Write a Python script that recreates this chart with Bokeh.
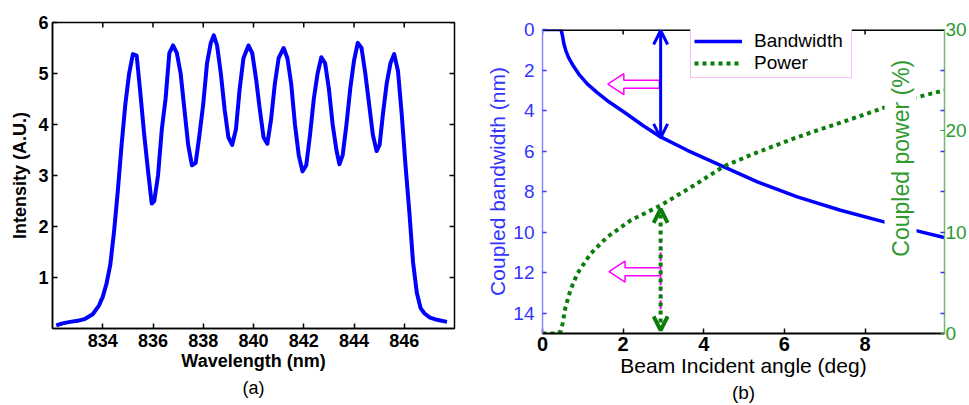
import math
from bokeh.plotting import figure
from bokeh.models import (Range1d, LinearAxis, FixedTicker, Title, Label, Arrow,
                          OpenHead, Legend, LegendItem)
from bokeh.layouts import row
from bokeh.embed import file_html
from bokeh.resources import INLINE

# ---------------- data: panel (a) ----------------
wavelength = [832.15, 832.4, 832.7, 833.0, 833.3, 833.6, 833.85, 834.0, 834.15, 834.3,
              834.45, 834.6, 834.75, 834.9, 835.05, 835.2, 835.35, 835.5, 835.65, 835.8,
              835.95, 836.05, 836.2, 836.35, 836.5, 836.65, 836.8, 836.95, 837.1, 837.25,
              837.4, 837.55, 837.7, 837.85, 838.0, 838.15, 838.3, 838.42, 838.55, 838.7,
              838.85, 839.0, 839.15, 839.3, 839.45, 839.6, 839.8, 839.95, 840.1, 840.25,
              840.4, 840.55, 840.7, 840.85, 841.0, 841.2, 841.35, 841.5, 841.65, 841.8,
              841.95, 842.1, 842.25, 842.4, 842.55, 842.7, 842.85, 843.0, 843.15, 843.3,
              843.42, 843.55, 843.7, 843.85, 844.0, 844.15, 844.3, 844.45, 844.6, 844.75,
              844.9, 845.02, 845.15, 845.3, 845.45, 845.6, 845.75, 845.9, 846.05, 846.2,
              846.35, 846.5, 846.65, 846.8, 847.0, 847.3, 847.7]
intensity = [0.06, 0.10, 0.13, 0.15, 0.19, 0.28, 0.45, 0.62, 0.88, 1.25,
             1.9, 2.7, 3.6, 4.4, 5.0, 5.38, 5.35, 4.6, 3.8, 3.1,
             2.45, 2.5, 3.0, 3.9, 4.5, 5.4, 5.55, 5.4, 5.0, 4.3,
             3.6, 3.2, 3.25, 3.8, 4.4, 5.2, 5.6, 5.75, 5.55, 5.0,
             4.3, 3.75, 3.6, 3.9, 4.7, 5.3, 5.55, 5.4, 4.9, 4.3,
             3.75, 3.62, 4.1, 4.8, 5.3, 5.5, 5.3, 4.8, 4.0, 3.4,
             3.08, 3.2, 3.8, 4.5, 5.0, 5.32, 5.2, 4.7, 4.0, 3.5,
             3.22, 3.4, 4.0, 4.7, 5.25, 5.6, 5.5, 5.0, 4.4, 3.8,
             3.48, 3.6, 4.2, 4.8, 5.2, 5.38, 5.05, 4.2, 3.2, 2.3,
             1.3, 0.7, 0.4, 0.3, 0.22, 0.17, 0.13]
wl_ticks = [834, 836, 838, 840, 842, 844, 846]
int_ticks = [1, 2, 3, 4, 5, 6]

# ---------------- data: panel (b) ----------------
angle_bw = [0, 0.46, 0.5, 0.53, 0.58, 0.65, 0.75, 0.9, 1.11, 1.35, 1.6, 2.02, 2.5,
            2.93, 3.59, 4.5, 5.33, 6.32, 7.39, 8.47, 9.21, 9.96]
bandwidth = [0, 0, 0.35, 0.7, 1.05, 1.4, 1.75, 2.2, 2.68, 3.1, 3.5, 4.07, 4.75,
             5.3, 5.96, 6.78, 7.52, 8.26, 8.92, 9.49, 9.9, 10.26]
angle_pw = [0, 0.36, 0.45, 0.5, 0.57, 0.69, 0.86, 1.19, 1.6, 2.18, 2.93, 3.75,
            4.5, 5.24, 6.32, 7.56, 8.47, 9.3, 9.96]
power = [0, 0, 0.2, 1.0, 2.6, 4.24, 5.89, 7.86, 9.5, 11.15, 12.64, 14.6,
         16.5, 17.74, 19.38, 21.03, 22.28, 23.33, 23.99]
angle_ticks = [0, 2, 4, 6, 8]
bw_ticks = [0, 2, 4, 6, 8, 10, 12, 14]
pw_ticks = [0, 10, 20, 30]

# annotation arrows (angle, values)
bw_arrow = dict(x=2.93, y0=0.05, y1=5.35)        # bandwidth double arrow
pw_arrow = dict(x=2.93, y0=0.3, y1=12.3)         # power double arrow (right axis)
hollow_arrows = [dict(tip=1.62, tail=2.9, y=2.7),
                 dict(tip=1.65, tail=2.93, y=11.95)]
magenta_seg = dict(x=2.93, y0=10.4, y1=13.8)

FONT = "Liberation Sans"
BLUE = "#0000ff"
AX_BLUE = "#3434ff"
AX_BLUE_LINE = "#8888ff"
GREEN = "#0a7d0a"
AX_GREEN = "#2f9a2f"
AX_GREEN_LINE = "#72b872"
MAGENTA = "#ff00ff"
TICK = 5  # inward tick length, px


def ticks_in(ax, color, width=1.5, length=TICK):
    ax.major_tick_in = length
    ax.major_tick_out = 0
    ax.minor_tick_in = 0
    ax.minor_tick_out = 0
    ax.major_tick_line_color = color
    ax.major_tick_line_width = width


# ================= panel (a) =================
A_W, A_H = 480, 405
A_L, A_R, A_T, A_B = 52, 26, 22, 77
a_x0, a_x1, a_y0, a_y1 = 832, 848, 0, 6
pa = figure(width=A_W, height=A_H,
            x_range=Range1d(a_x0, a_x1), y_range=Range1d(a_y0, a_y1),
            output_backend="svg", toolbar_location=None,
            min_border_left=A_L, min_border_right=A_R, min_border_top=A_T,
            min_border_bottom=A_B)
pa.frame_align = False
pa.grid.visible = False
pa.outline_line_color = "black"
pa.outline_line_width = 1.5
pa.background_fill_color = "white"
pa.border_fill_color = "white"

pa.line(wavelength, intensity, line_color=BLUE, line_width=4, line_join="round")

for ax, ticks, title in ((pa.xaxis[0], wl_ticks, "Wavelength (nm)"),
                         (pa.yaxis[0], int_ticks, "Intensity (A.U.)")):
    ax.ticker = FixedTicker(ticks=ticks)
    ax.axis_label = title
    ax.axis_label_text_font = FONT
    ax.axis_label_text_font_size = "18px"
    ax.axis_label_text_font_style = "bold"
    ax.axis_label_text_color = "black"
    ax.major_label_text_font = FONT
    ax.major_label_text_font_size = "18px"
    ax.major_label_text_font_style = "bold"
    ax.major_label_text_color = "black"
    ax.axis_line_color = "black"
    ax.axis_line_width = 1.5
    ticks_in(ax, "black")
pa.xaxis[0].major_label_standoff = 5
pa.xaxis[0].axis_label_standoff = 1
pa.yaxis[0].major_label_standoff = 4
pa.yaxis[0].axis_label_standoff = 5

# mirrored inward ticks on the right and top edges
a_fw = A_W - A_L - A_R
a_fh = A_H - A_T - A_B
a_dx = TICK * (a_x1 - a_x0) / a_fw
a_dy = TICK * (a_y1 - a_y0) / a_fh
pa.segment(x0=[a_x1] * len(int_ticks), y0=int_ticks, x1=[a_x1 - a_dx] * len(int_ticks),
           y1=int_ticks, line_color="black", line_width=1.5)
pa.segment(x0=wl_ticks, y0=[a_y1] * len(wl_ticks), x1=wl_ticks,
           y1=[a_y1 - a_dy] * len(wl_ticks), line_color="black", line_width=1.5)

pa.add_layout(Title(text="(a)", align="center", text_font=FONT, text_font_size="18px",
                    text_font_style="normal", text_color="black", standoff=4, offset=0),
              "below")

# ================= panel (b) =================
B_W, B_H = 489, 405
B_L, B_R, B_T, B_B = 62, 25, 29, 72
b_x0, b_x1 = 0, 9.97
pb = figure(width=B_W, height=B_H,
            x_range=Range1d(b_x0, b_x1), y_range=Range1d(15, 0),
            output_backend="svg", toolbar_location=None,
            min_border_left=B_L, min_border_right=B_R, min_border_top=B_T,
            min_border_bottom=B_B)
pb.frame_align = False
pb.extra_y_ranges = {"power": Range1d(0, 30)}
pb.grid.visible = False
pb.outline_line_color = None
pb.background_fill_color = "white"
pb.border_fill_color = "white"
b_fw = B_W - B_L - B_R
b_fh = B_H - B_T - B_B
px_x = b_fw / (b_x1 - b_x0)
px_y = b_fh / 15.0

# magenta dotted piece under the power arrow
pb.segment(x0=[magenta_seg["x"]], y0=[magenta_seg["y0"]], x1=[magenta_seg["x"]],
           y1=[magenta_seg["y1"]], line_color=MAGENTA, line_width=2, line_dash="3 3")

r_bw = pb.line(angle_bw, bandwidth, line_color=BLUE, line_width=3.5, line_join="round")
r_pw = pb.line(angle_pw, power, y_range_name="power", line_color=GREEN, line_width=4,
               line_dash="4 4")

# hollow magenta arrows (built from tip/tail/y + pixel-based style sizes)
head_len = 16 / px_x
head_half = 10.5 / px_y
shaft_half = 4 / px_y
xs, ys = [], []
for a in hollow_arrows:
    base = a["tip"] + head_len
    xs.append([a["tip"], base, base, a["tail"], a["tail"], base, base])
    ys.append([a["y"], a["y"] - head_half, a["y"] - shaft_half, a["y"] - shaft_half,
               a["y"] + shaft_half, a["y"] + shaft_half, a["y"] + head_half])
pb.patches(xs, ys, fill_color="white", line_color=MAGENTA, line_width=1.5)

# top edge line and mirrored top ticks
pb.segment(x0=[b_x0], y0=[0], x1=[b_x1], y1=[0], line_color="black", line_width=3)
pb.segment(x0=angle_ticks, y0=[0] * len(angle_ticks), x1=angle_ticks,
           y1=[TICK / px_y] * len(angle_ticks), line_color="black", line_width=1.5)

pb.add_layout(Arrow(start=OpenHead(size=14, line_color=BLUE, line_width=3),
                    end=OpenHead(size=14, line_color=BLUE, line_width=3),
                    x_start=bw_arrow["x"], y_start=bw_arrow["y0"],
                    x_end=bw_arrow["x"], y_end=bw_arrow["y1"],
                    line_color=BLUE, line_width=3))
pb.add_layout(Arrow(start=OpenHead(size=14, line_color=GREEN, line_width=4),
                    end=OpenHead(size=14, line_color=GREEN, line_width=4),
                    x_start=pw_arrow["x"], y_start=pw_arrow["y0"],
                    x_end=pw_arrow["x"], y_end=pw_arrow["y1"],
                    y_range_name="power",
                    line_color=GREEN, line_width=4, line_dash="4 4"))

# bottom axis
xb = pb.xaxis[0]
xb.ticker = FixedTicker(ticks=angle_ticks)
xb.axis_label = "Beam Incident angle (deg)"
xb.axis_label_text_font = FONT
xb.axis_label_text_font_size = "21px"
xb.axis_label_text_font_style = "normal"
xb.axis_label_text_color = "black"
xb.axis_label_standoff = 0
xb.major_label_text_font = FONT
xb.major_label_text_font_size = "20px"
xb.major_label_text_font_style = "bold"
xb.major_label_text_color = "black"
xb.major_label_standoff = 3
xb.axis_line_color = "black"
xb.axis_line_width = 2
ticks_in(xb, "black")

# left axis
yl = pb.yaxis[0]
yl.ticker = FixedTicker(ticks=bw_ticks)
yl.axis_label = "Coupled bandwidth (nm)"
yl.axis_label_text_font = FONT
yl.axis_label_text_font_size = "21px"
yl.axis_label_text_font_style = "normal"
yl.axis_label_text_color = AX_BLUE
yl.axis_label_standoff = 1
yl.major_label_text_font = FONT
yl.major_label_text_font_size = "19px"
yl.major_label_text_font_style = "normal"
yl.major_label_text_color = AX_BLUE
yl.major_label_standoff = 8
yl.axis_line_color = AX_BLUE_LINE
yl.axis_line_width = 1.5
ticks_in(yl, AX_BLUE, length=4)

# right axis (power) with mirrored bandwidth ticks as minor ticks
yr = LinearAxis(y_range_name="power",
                ticker=FixedTicker(ticks=pw_ticks,
                                   minor_ticks=[30 - 2 * b for b in bw_ticks[1:]]))
yr.major_label_text_font = FONT
yr.major_label_text_font_size = "19px"
yr.major_label_text_color = AX_GREEN
yr.major_label_standoff = 1
yr.axis_line_color = AX_GREEN_LINE
yr.axis_line_width = 1.5
yr.major_tick_in = 4
yr.major_tick_out = 0
yr.major_tick_line_color = AX_GREEN
yr.minor_tick_in = 4
yr.minor_tick_out = 0
yr.minor_tick_line_color = AX_BLUE
yr.minor_tick_line_width = 1.5
pb.add_layout(yr, "right")

# right axis title drawn inside the frame (as in the original)
pb.add_layout(Label(x=8.88, y=6.35, text="Coupled power (%)", angle=math.pi / 2,
                    angle_units="rad", text_align="center", text_baseline="middle",
                    text_font=FONT, text_font_size="23px", text_color=AX_GREEN,
                    background_fill_color="white", padding=3))

legend = Legend(items=[LegendItem(label="Bandwidth", renderers=[r_bw]),
                       LegendItem(label="Power", renderers=[r_pw])],
                location=(148, b_fh - 49), orientation="vertical",
                label_text_font=FONT, label_text_font_size="19px", label_text_color="black",
                glyph_width=48, glyph_height=22, label_height=22, label_width=94,
                label_standoff=12, padding=3, spacing=0, margin=0,
                border_line_color="#f080f0", border_line_width=1,
                background_fill_color="white", background_fill_alpha=1)
pb.add_layout(legend, "center")

pb.add_layout(Title(text="(b)", align="center", text_font=FONT, text_font_size="19px",
                    text_font_style="normal", text_color="black", standoff=0, offset=0),
              "below")

layout = row(pa, pb)
open("out.html", "w").write(file_html(layout, INLINE))
